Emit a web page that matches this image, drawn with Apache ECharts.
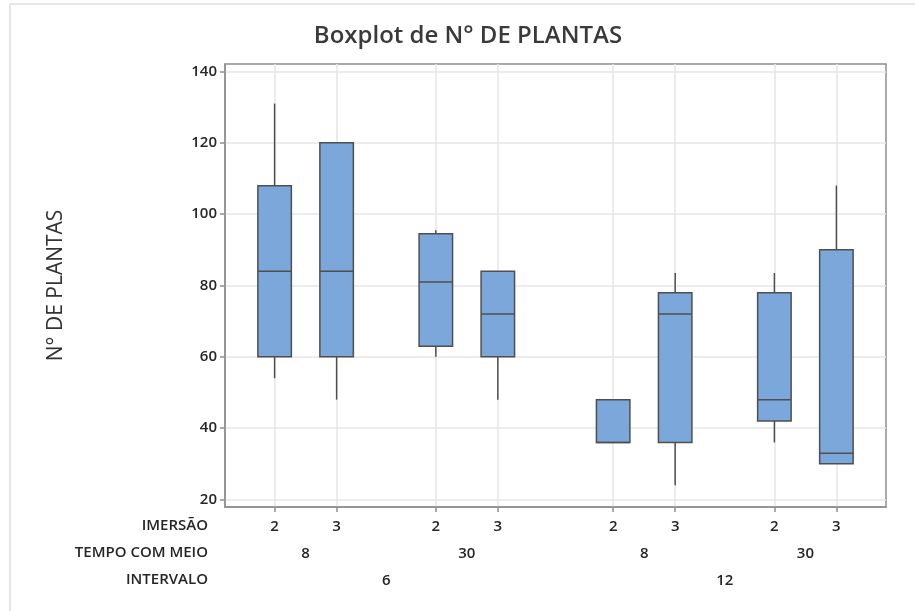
<!DOCTYPE html>
<html>
<head>
<meta charset="utf-8">
<script src="https://cdn.jsdelivr.net/npm/echarts@6/dist/echarts.min.js"></script>
<style>
  html, body { margin: 0; padding: 0; background: #fff; }
  #chart { width: 915px; height: 611px; }
</style>
</head>
<body>
<div id="chart"></div>
<script>
// Factor levels for each box, left to right
const imersao   = ['2', '3', '2', '3', '2', '3', '2', '3'];
const tempo     = ['8', '8', '30', '30', '8', '8', '30', '30'];
const intervalo = ['6', '6', '6', '6', '12', '12', '12', '12'];

// Five-number summaries of N° DE PLANTAS per group
const mins    = [54, 48, 60,   48, 36, 24, 36,   30];
const q1s     = [60, 60, 63,   60, 36, 36, 42,   30];
const medians = [84, 84, 81,   72, 36, 72, 48,   33];
const q3s     = [108, 120, 94.5, 84, 48, 78, 78,  90];
const maxs    = [131, 120, 95.5, 84, 48, 83.5, 83.5, 108];

// Y axis tick values
const yTicks = [20, 40, 60, 80, 100, 120, 140];

// Box positions on the x scale: wider gaps where an outer factor changes
const positions = [];
{
  let p = 0;
  for (let i = 0; i < imersao.length; i++) {
    if (i > 0) {
      if (intervalo[i] !== intervalo[i - 1]) p += 1.86;
      else if (tempo[i] !== tempo[i - 1]) p += 1.6;
      else p += 1;
    }
    positions.push(p);
  }
}
const xMin = -0.8;
const xMax = positions[positions.length - 1] + 0.8;

// Centres of the nested groups, used for the outer label rows
function groupCenters(levels) {
  const out = [];
  let start = 0;
  for (let i = 1; i <= levels.length; i++) {
    if (i === levels.length || levels[i] !== levels[i - 1] ||
        (levels === tempo && intervalo[i] !== intervalo[i - 1])) {
      out.push({ value: (positions[start] + positions[i - 1]) / 2, label: levels[start] });
      start = i;
    }
  }
  return out;
}
const tempoGroups = groupCenters(tempo);
const intervaloGroups = groupCenters(intervalo);

function labelLookup(items) {
  const m = {};
  items.forEach(it => { m[it.value.toFixed(4)] = it.label; });
  return v => m[Number(v).toFixed(4)] || '';
}

const font = '"Open Sans", "Noto Sans", sans-serif';
const axisGray = '#8f8f8f';
const textColor = '#262626';
const labelSize = 15;
const labelWeight = 600;

const boxData = positions.map((p, i) => [p, mins[i], q1s[i], medians[i], q3s[i], maxs[i]]);

const chart = echarts.init(document.getElementById('chart'));

function hiddenAxis(offset, groups) {
  return {
    type: 'value', gridIndex: 0, position: 'bottom', offset: offset,
    min: xMin, max: xMax,
    axisLine: { show: false }, axisTick: { show: false }, splitLine: { show: false },
    axisLabel: {
      customValues: groups.map(g => g.value),
      formatter: labelLookup(groups),
      margin: 12, fontFamily: font, fontSize: labelSize, fontWeight: labelWeight, color: textColor
    }
  };
}

chart.setOption({
  backgroundColor: '#ffffff',
  animation: false,
  title: {
    text: 'Boxplot de N° DE PLANTAS',
    left: 463, top: 19, textAlign: 'center',
    textStyle: { fontFamily: font, fontSize: 24, fontWeight: 600, color: '#3a3a3a' }
  },
  grid: {
    left: 225, right: 29, top: 64, bottom: 104,
    show: true, borderColor: axisGray, borderWidth: 1.5, backgroundColor: 'transparent'
  },
  xAxis: [
    {
      type: 'value', gridIndex: 0, position: 'bottom',
      min: xMin, max: xMax,
      axisLine: { show: true, onZero: false, lineStyle: { color: axisGray, width: 1.5 } },
      axisTick: { show: true, customValues: positions, length: 5, lineStyle: { color: axisGray, width: 1.5 } },
      splitLine: { show: true, lineStyle: { color: '#e6e6e6', width: 1.5 } },
      axisLabel: {
        customValues: positions,
        formatter: v => imersao[positions.findIndex(p => Math.abs(p - v) < 1e-6)] || '',
        margin: 12, fontFamily: font, fontSize: labelSize, fontWeight: labelWeight, color: textColor
      }
    },
    hiddenAxis(27, tempoGroups),
    hiddenAxis(54, intervaloGroups)
  ],
  yAxis: {
    type: 'value', min: 17.9, max: 142.1,
    name: 'N° DE PLANTAS', nameLocation: 'middle', nameRotate: 90, nameGap: 158,
    nameTextStyle: { fontFamily: font, fontSize: 21, color: '#333333' },
    axisLine: { show: true, onZero: false, lineStyle: { color: axisGray, width: 1.5 } },
    axisTick: { show: true, customValues: yTicks, length: 5, lineStyle: { color: axisGray, width: 1.5 } },
    splitLine: { show: true, lineStyle: { color: '#e6e6e6', width: 1.5 } },
    axisLabel: { customValues: yTicks, margin: 8, fontFamily: font, fontSize: labelSize, fontWeight: labelWeight, color: textColor }
  },
  graphic: [
    { type: 'line', shape: { x1: 10, y1: 4, x2: 915, y2: 4 }, style: { stroke: '#dedede', lineWidth: 1.5 } },
    { type: 'line', shape: { x1: 10, y1: 4, x2: 10, y2: 611 }, style: { stroke: '#dedede', lineWidth: 1.5 } },
    { type: 'text', right: 915 - 208, top: 518, style: { text: 'IMERSÃO', font: labelWeight + ' ' + labelSize + 'px ' + font, fill: textColor } },
    { type: 'text', right: 915 - 208, top: 545, style: { text: 'TEMPO COM MEIO', font: labelWeight + ' ' + labelSize + 'px ' + font, fill: textColor } },
    { type: 'text', right: 915 - 208, top: 572, style: { text: 'INTERVALO', font: labelWeight + ' ' + labelSize + 'px ' + font, fill: textColor } }
  ],
  series: [{
    type: 'custom',
    xAxisIndex: 0, yAxisIndex: 0,
    data: boxData,
    renderItem: function (params, api) {
      const x = api.value(0);
      const lo = api.coord([x, api.value(1)]);
      const q1 = api.coord([x, api.value(2)]);
      const md = api.coord([x, api.value(3)]);
      const q3 = api.coord([x, api.value(4)]);
      const hi = api.coord([x, api.value(5)]);
      const w = api.size([0.54, 0])[0];
      const left = lo[0] - w / 2;
      const stroke = { stroke: '#4f4f4f', lineWidth: 1.5 };
      return {
        type: 'group',
        children: [
          { type: 'line', shape: { x1: hi[0], y1: hi[1], x2: q3[0], y2: q3[1] }, style: stroke },
          { type: 'line', shape: { x1: q1[0], y1: q1[1], x2: lo[0], y2: lo[1] }, style: stroke },
          { type: 'rect', shape: { x: left, y: q3[1], width: w, height: q1[1] - q3[1] },
            style: { fill: '#7ba7da', stroke: '#4f4f4f', lineWidth: 1.5 } },
          { type: 'line', shape: { x1: left, y1: md[1], x2: left + w, y2: md[1] }, style: stroke }
        ]
      };
    }
  }]
});
</script>
</body>
</html>
